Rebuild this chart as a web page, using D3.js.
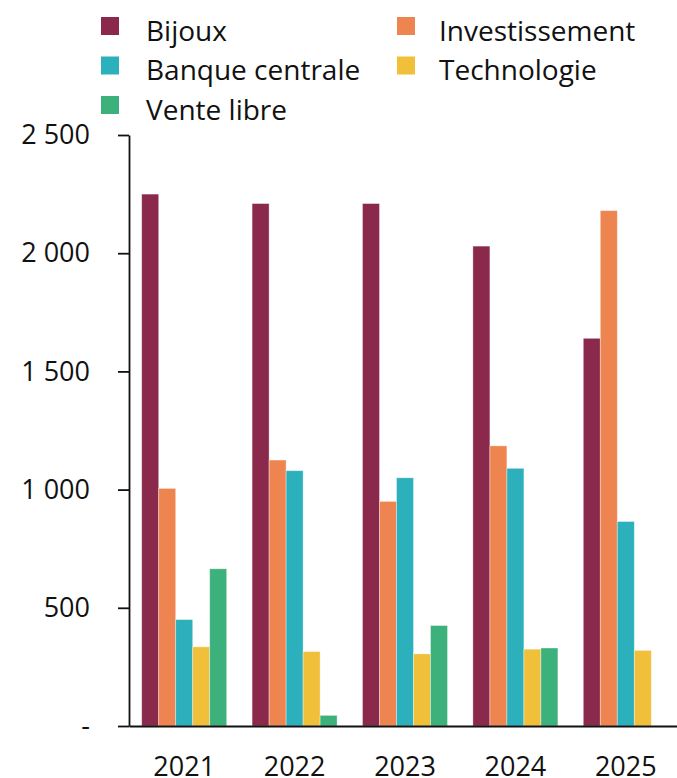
<!DOCTYPE html>
<html lang="fr">
<head>
  <meta charset="UTF-8">
  <title>Demande d'or par secteur</title>
  <script src="https://d3js.org/d3.v7.min.js"></script>
  <style>
    body { margin: 0; background: #fff; }
    svg { display: block; font-family: "Open Sans", sans-serif; }
  </style>
</head>
<body>
  <svg id="chart" width="677" height="778"></svg>
  <script>
    // data
    const years = ["2021", "2022", "2023", "2024", "2025"];
    const bijoux = [2250, 2210, 2210, 2030, 1640];
    const investissement = [1005, 1125, 950, 1185, 2180];
    const banqueCentrale = [450, 1080, 1050, 1090, 865];
    const technologie = [335, 315, 305, 325, 320];
    const venteLibre = [665, 45, 425, 330, null];
    const yTicks = [0, 500, 1000, 1500, 2000, 2500];

    const seriesNames = ["Bijoux", "Investissement", "Banque centrale", "Technologie", "Vente libre"];
    const seriesValues = [bijoux, investissement, banqueCentrale, technologie, venteLibre];
    const colors = ["#8b294d", "#ee8550", "#2bb0bc", "#f1c03b", "#3db17c"];

    const svg = d3.select("#chart");

    const x0 = d3.scaleBand().domain(years).range([129, 681])
      .paddingInner(0.23).paddingOuter(0.115);
    const x1 = d3.scaleBand().domain(seriesNames).range([0, x0.bandwidth()]);
    const y = d3.scaleLinear().domain([0, 2500]).range([726, 135]);
    const color = d3.scaleOrdinal().domain(seriesNames).range(colors);

    const fr = d3.formatLocale({decimal: ",", thousands: " ", grouping: [3], currency: ["", " €"]});
    const fmt = fr.format(",.0f");

    // bars
    const rows = years.map((yr, i) => ({
      year: yr,
      values: seriesNames.map((s, j) => ({key: s, value: seriesValues[j][i]}))
    }));

    svg.append("g").selectAll("g")
      .data(rows)
      .join("g")
      .attr("transform", d => `translate(${x0(d.year)},0)`)
      .selectAll("rect")
      .data(d => d.values.filter(v => v.value != null))
      .join("rect")
      .attr("x", d => x1(d.key))
      .attr("y", d => y(d.value))
      .attr("width", x1.bandwidth())
      .attr("height", d => y(0) - y(d.value))
      .attr("fill", d => color(d.key))
      .attr("stroke", "#fff")
      .attr("stroke-opacity", 0.45)
      .attr("stroke-width", 0.8);

    // y axis
    const yAxis = svg.append("g")
      .attr("transform", "translate(129,0)")
      .call(d3.axisLeft(y).tickValues(yTicks).tickSize(11).tickSizeOuter(0).tickPadding(28)
        .tickFormat(d => d === 0 ? "-" : fmt(d)));
    yAxis.attr("font-family", null).attr("font-size", 27);
    yAxis.selectAll("text").attr("fill", "#111");
    yAxis.selectAll("line, path").attr("stroke", "#111").attr("stroke-width", 1.8);

    // x axis
    const xAxis = svg.append("g")
      .attr("transform", `translate(0,${y(0)})`)
      .call(d3.axisBottom(x0).tickSize(0).tickPadding(31));
    xAxis.attr("font-family", null).attr("font-size", 27);
    xAxis.selectAll("text").attr("fill", "#111");
    xAxis.select(".domain").attr("stroke", "#111").attr("stroke-width", 1.8);

    // legend
    const legendX = [101, 397];
    const textX = [146, 439];
    const legend = svg.append("g").selectAll("g")
      .data(seriesNames)
      .join("g")
      .attr("transform", (d, i) => `translate(${legendX[i % 2]},${17 + Math.floor(i / 2) * 39.5})`);

    legend.append("rect")
      .attr("width", 18)
      .attr("height", 18)
      .attr("fill", d => color(d));

    legend.append("text")
      .attr("x", (d, i) => textX[i % 2] - legendX[i % 2])
      .attr("y", 23.5)
      .attr("font-size", 28)
      .attr("fill", "#111")
      .text(d => d);
  </script>
</body>
</html>
